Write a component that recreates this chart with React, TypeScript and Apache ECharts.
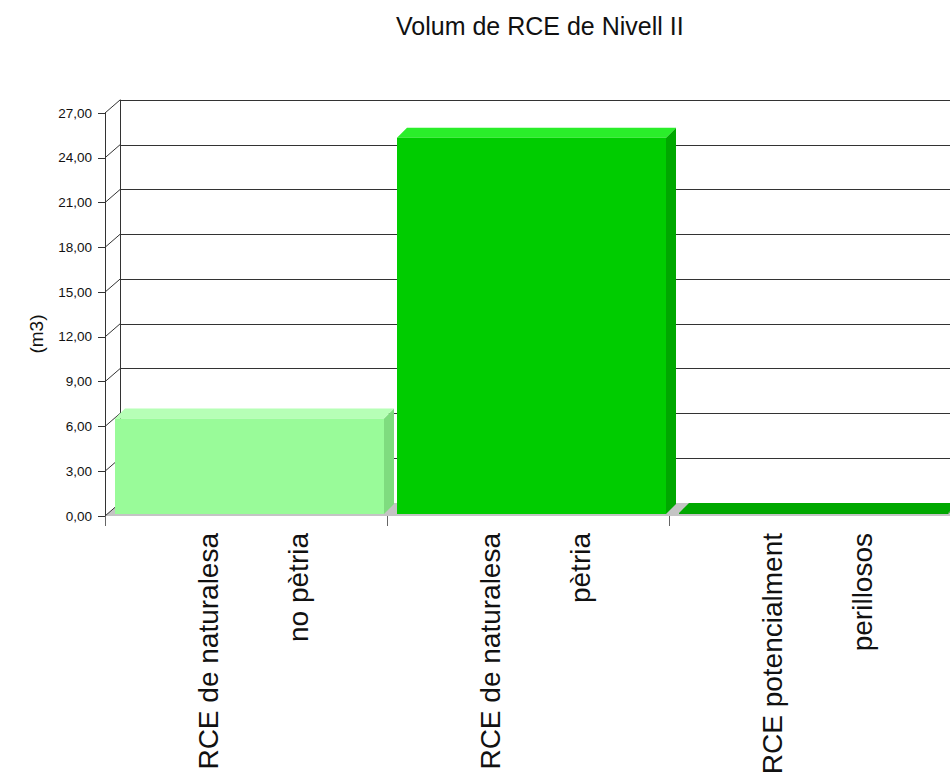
import React, { useEffect, useRef } from "react";
import * as echarts from "echarts";

const titleText = "Volum de RCE de Nivell II";
const yAxisName = "(m3)";
const categoryLine1 = ["RCE de naturalesa", "RCE de naturalesa", "RCE potencialment"];
const categoryLine2 = ["no pètria", "pètria", "perillosos"];
const values = [6.4, 25.2, 0.07];
const yTicks = [0, 3, 6, 9, 12, 15, 18, 21, 24, 27];
const frontColors = ["#99fb99", "#00cc00", "#00a400"];
const topColors = ["#b6ffb6", "#2aee2a", "#00a800"];
const sideColors = ["#7fdc7f", "#00a800", "#008800"];

const FONT = "Arial, 'Liberation Sans', sans-serif";

export default function App() {
  const ref = useRef<HTMLDivElement>(null);
  useEffect(() => {
    if (!ref.current) return;
    const chart = echarts.init(ref.current, null, { renderer: "svg" });
    const categories = categoryLine1.map((a, i) => a + "\n" + categoryLine2[i]);
    const yMin = yTicks[0];
    const yMax = yTicks[yTicks.length - 1];
    const yStep = yTicks[1] - yTicks[0];
    const wallDx = 15;
    const wallDy = 13;
    const barDepth = 10;

    const option: any = {
      animation: false,
      backgroundColor: "#ffffff",
      title: {
        text: titleText,
        left: 391,
        top: 8,
        textStyle: { fontFamily: FONT, fontSize: 25, fontWeight: "normal", color: "#111" },
      },
      graphic: [
        {
          type: "text",
          x: 36,
          y: 334,
          rotation: Math.PI / 2,
          style: {
            text: yAxisName,
            fontFamily: FONT,
            fontSize: 19,
            fill: "#111",
            align: "center",
            verticalAlign: "middle",
          },
        },
      ],
      grid: [
        { left: 105, top: 113, width: 846, height: 403, outerBoundsMode: "none", containLabel: false },
        { left: 120, top: 100, width: 846, height: 403, outerBoundsMode: "none", containLabel: false },
      ],
      xAxis: [
        {
          type: "category",
          gridIndex: 0,
          data: categories,
          boundaryGap: true,
          axisLine: { show: false },
          axisTick: { show: true, length: 10, alignWithLabel: false, lineStyle: { color: "#666" } },
          axisLabel: {
            interval: 0,
            rotate: 90,
            margin: 17,
            color: "#111",
            fontFamily: FONT,
            fontSize: 28,
            lineHeight: 90,
            formatter: (val: string) => {
              const parts = val.split("\n");
              return "{s| }\n{a|" + parts[0] + "}\n{a|" + parts[1] + "}";
            },
            rich: {
              a: { fontSize: 28, lineHeight: 90, color: "#111", fontFamily: FONT },
              s: { fontSize: 4, lineHeight: 14, color: "#111", fontFamily: FONT },
            },
          },
          splitLine: { show: false },
        },
        {
          type: "category",
          gridIndex: 1,
          data: categories,
          show: false,
        },
      ],
      yAxis: [
        {
          type: "value",
          gridIndex: 0,
          min: yMin,
          max: yMax,
          interval: yStep,
          axisLine: { show: true, lineStyle: { color: "#333" } },
          axisTick: { show: true, length: 7, lineStyle: { color: "#333" } },
          axisLabel: {
            margin: 13,
            fontSize: 13.5,
            color: "#111",
            fontFamily: FONT,
            formatter: (v: number) => v.toFixed(2).replace(".", ","),
          },
          splitLine: { show: false },
        },
        {
          type: "value",
          gridIndex: 1,
          min: yMin,
          max: yMax,
          interval: yStep,
          axisLine: { show: true, lineStyle: { color: "#333" } },
          axisTick: { show: false },
          axisLabel: { show: false },
          splitLine: { show: true, lineStyle: { color: "#333", width: 1 } },
        },
      ],
      series: [
        {
          type: "custom",
          name: "floor",
          xAxisIndex: 0,
          yAxisIndex: 0,
          z: 1,
          silent: true,
          data: [[0, 0]],
          renderItem: (params: any, api: any) => {
            const p = api.coord([0, 0]);
            const bw = api.size([1, 0])[0];
            const x0 = p[0] - bw / 2;
            const x1 = x0 + bw * categories.length;
            const y = p[1];
            return {
              type: "polygon",
              shape: {
                points: [
                  [x0, y],
                  [x1, y],
                  [x1 + wallDx, y - wallDy],
                  [x0 + wallDx, y - wallDy],
                ],
              },
              style: { fill: "#c4c4c4", stroke: "none" },
            };
          },
        },
        {
          type: "custom",
          name: "connectors",
          xAxisIndex: 0,
          yAxisIndex: 0,
          z: 2,
          silent: true,
          data: yTicks.map((v) => [0, v]),
          renderItem: (params: any, api: any) => {
            const p = api.coord([0, api.value(1)]);
            const bw = api.size([1, 0])[0];
            const x0 = p[0] - bw / 2;
            return {
              type: "line",
              shape: { x1: x0, y1: p[1], x2: x0 + wallDx, y2: p[1] - wallDy },
              style: { stroke: "#333", lineWidth: 1 },
            };
          },
        },
        {
          type: "custom",
          name: "bars",
          xAxisIndex: 0,
          yAxisIndex: 0,
          z: 3,
          data: values.map((v, i) => [i, v]),
          encode: { x: 0, y: 1 },
          renderItem: (params: any, api: any) => {
            const i = api.value(0);
            const v = api.value(1);
            const p = api.coord([i, v]);
            const p0 = api.coord([i, 0]);
            const bw = api.size([1, 0])[0];
            const left = p[0] - bw / 2 + 10;
            const w = bw - 13;
            const base = p0[1] - 2;
            const top = Math.min(p[1] - 2, base - 1);
            const d = barDepth;
            return {
              type: "group",
              children: [
                {
                  type: "polygon",
                  shape: {
                    points: [
                      [left + w, top],
                      [left + w + d, top - d],
                      [left + w + d, base - d],
                      [left + w, base],
                    ],
                  },
                  style: { fill: sideColors[i], stroke: "none" },
                },
                {
                  type: "polygon",
                  shape: {
                    points: [
                      [left, top],
                      [left + d, top - d],
                      [left + w + d, top - d],
                      [left + w, top],
                    ],
                  },
                  style: { fill: topColors[i], stroke: "none" },
                },
                {
                  type: "rect",
                  shape: { x: left, y: top, width: w, height: base - top },
                  style: { fill: frontColors[i], stroke: "none" },
                },
              ],
            };
          },
        },
      ],
    };
    chart.setOption(option);
    return () => chart.dispose();
  }, []);
  return (
    <div
      ref={ref}
      style={{ position: "fixed", left: 0, top: 0, width: 950, height: 776, background: "#fff" }}
    />
  );
}
